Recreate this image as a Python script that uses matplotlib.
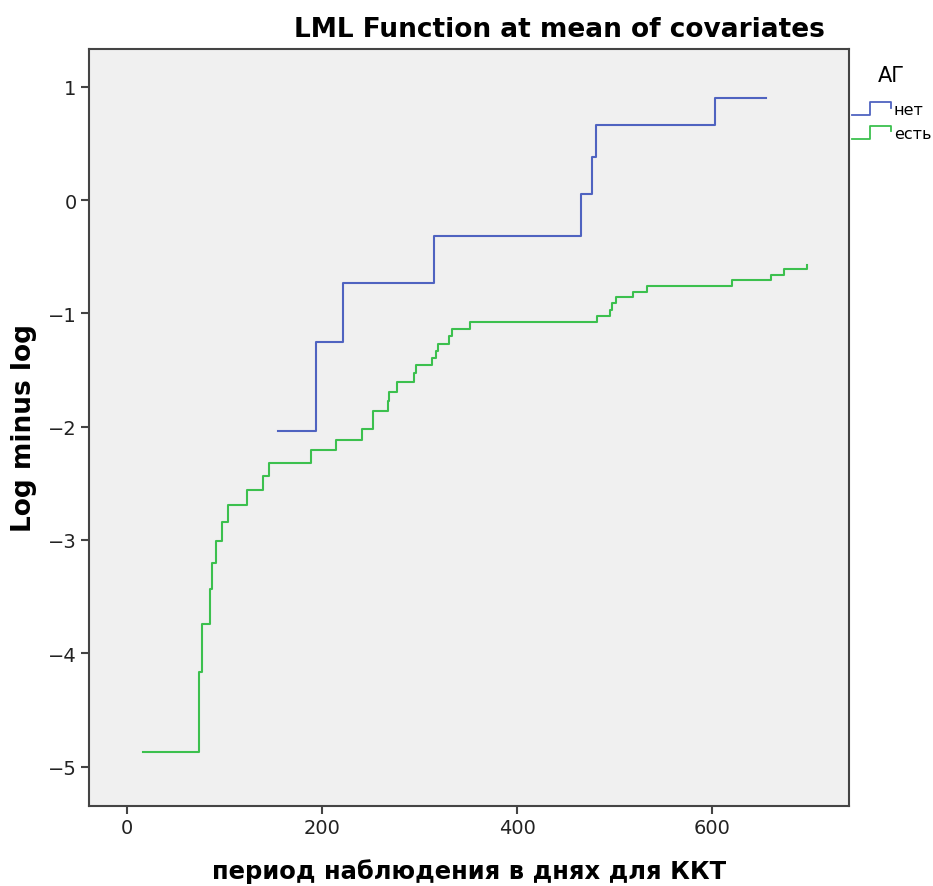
import numpy as np
import matplotlib
matplotlib.use("Agg")
import matplotlib.pyplot as plt
import matplotlib.ticker as ticker
from matplotlib.legend_handler import HandlerBase
from matplotlib.lines import Line2D


plt.rcParams['font.family'] = 'DejaVu Sans'

# -------------------------------------------------
# Data
# -------------------------------------------------

# group "нет": event times (days) and log-minus-log level after each step
BLUE_T = [154.7, 193.6, 221.0, 314.5, 464.9, 477.0, 480.8, 602.5, 654.4]
BLUE_Y = [-2.04, -1.25, -0.73, -0.32, 0.05, 0.38, 0.66, 0.90, 0.90]

# group "есть"
GREEN_T = [16.7, 73.5, 77.2, 85.3, 86.8, 90.9, 97.0, 103.5, 123.0, 139.3,
           145.8, 188.2, 214.0, 240.5, 251.7, 252.5, 267.7, 268.8, 276.6,
           294.0, 295.8, 312.8, 317.0, 319.0, 329.6, 333.3, 352.0, 481.9,
           494.9, 497.2, 500.7, 518.7, 533.0, 619.6, 660.5, 673.5, 697.0]
GREEN_Y = [-4.87, -4.17, -3.74, -3.43, -3.20, -3.01, -2.84, -2.69, -2.56,
           -2.44, -2.32, -2.21, -2.12, -2.02, -1.93, -1.86, -1.77, -1.69,
           -1.61, -1.53, -1.46, -1.39, -1.33, -1.27, -1.20, -1.14, -1.08,
           -1.02, -0.97, -0.91, -0.86, -0.81, -0.76, -0.71, -0.66, -0.61,
           -0.57]

GROUPS = ["нет", "есть"]
COLORS = {"нет": "#4f63c0", "есть": "#3cc04e"}

X_TICKS = [0, 200, 400, 600]
Y_TICKS = [1, 0, -1, -2, -3, -4, -5]


# -------------------------------------------------
# Legend handler: little step icon like SPSS
# -------------------------------------------------

class StepHandler(HandlerBase):

    def create_artists(self, legend, orig_handle, xdescent, ydescent,
                       width, height, fontsize, trans):
        xs = np.array([0, 0.45, 0.45, 1.0, 1.0]) * width - xdescent
        ys = np.array([-0.1, -0.1, 1.05, 1.05, 0.55]) * height - ydescent
        line = Line2D(xs, ys, color=orig_handle.get_color(), lw=1.3)
        line.set_transform(trans)
        return [line]


# -------------------------------------------------
# Plot
# -------------------------------------------------

fig = plt.figure(figsize=(9.33, 8.87), dpi=100)
ax = fig.add_axes([0.0954, 0.0905, 0.8146, 0.8531])
ax.set_facecolor("#f0f0f0")

series = {"нет": (BLUE_T, BLUE_Y), "есть": (GREEN_T, GREEN_Y)}
handles = []
for g in GROUPS:
    t, y = series[g]
    h, = ax.plot(t, y, drawstyle="steps-post", color=COLORS[g], lw=1.5)
    handles.append(h)

ax.set_xlim(-39, 740)
ax.set_ylim(-5.346, 1.333)

ax.xaxis.set_major_locator(ticker.FixedLocator(X_TICKS))
ax.yaxis.set_major_locator(ticker.FixedLocator(Y_TICKS))
ax.yaxis.set_major_formatter(ticker.FuncFormatter(lambda v, p: f"{int(v)}".replace("-", "\u2212")))

for spine in ax.spines.values():
    spine.set_color("#444444")
    spine.set_linewidth(1.5)

ax.tick_params(axis="both", direction="out", length=6, width=1.5,
               color="#444444", labelsize=14, labelcolor="#222222", pad=3)

ax.set_xlabel("период наблюдения в днях для ККТ", fontsize=17.5,
              fontweight="bold", labelpad=15)
ax.set_ylabel("Log minus log", fontsize=19, fontweight="bold", labelpad=8)

fig.text(0.6, 0.966, "LML Function at mean of covariates", ha="center",
         va="center", fontsize=19, fontweight="bold")

leg = ax.legend(handles=handles, labels=GROUPS, title="АГ",
                handler_map={Line2D: StepHandler()},
                loc="upper left", bbox_to_anchor=(0.998, 0.985),
                frameon=False, fontsize=11.5, title_fontsize=15,
                handlelength=2.4, handletextpad=0.2, labelspacing=0.55,
                borderaxespad=0.0, borderpad=0.3)
leg._legend_box.sep = 12

fig.savefig("out.png", dpi=100)
